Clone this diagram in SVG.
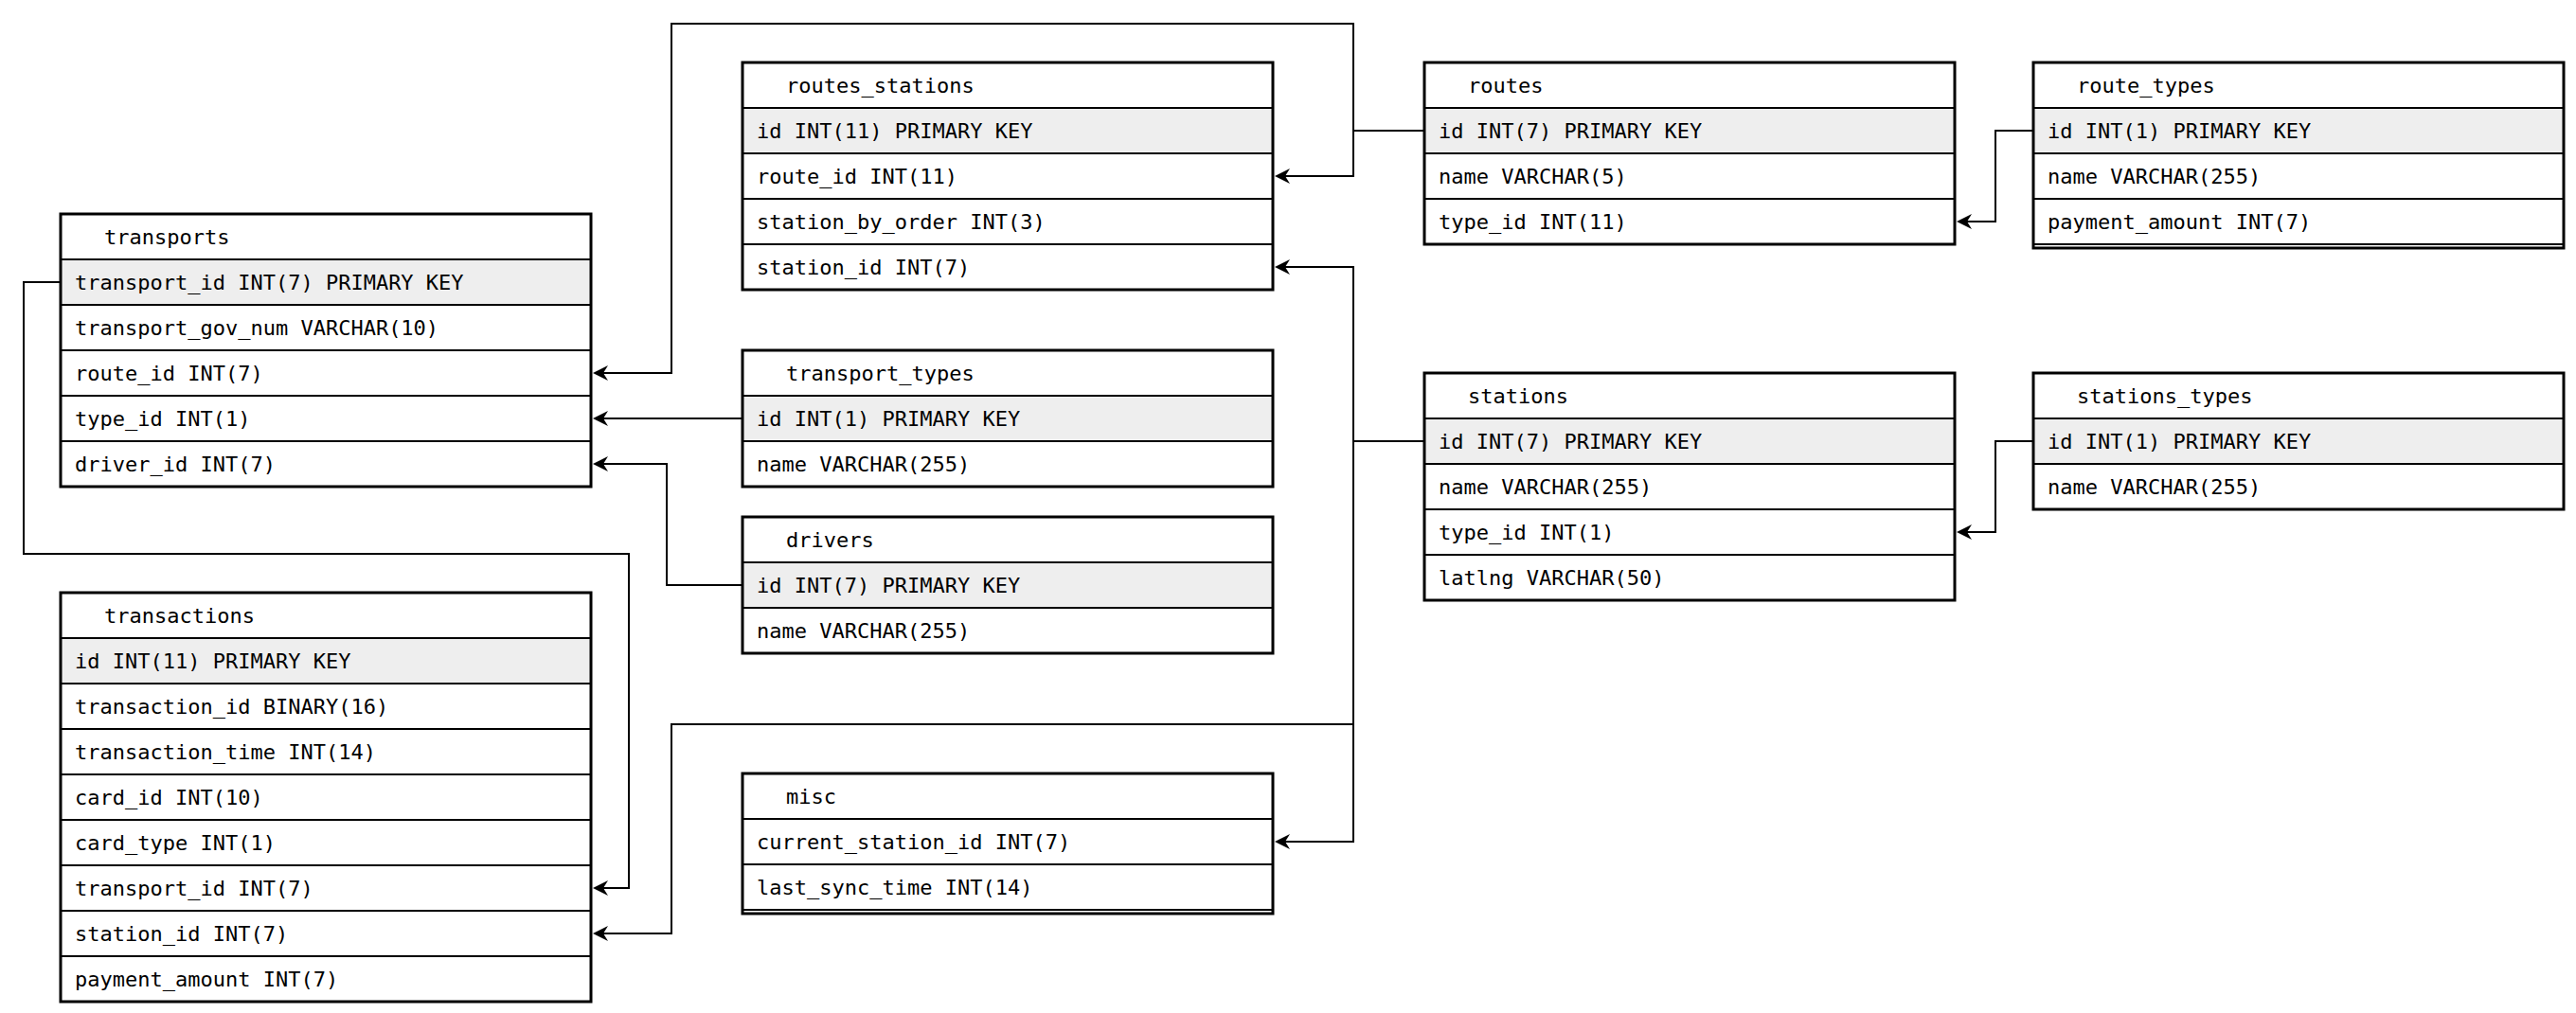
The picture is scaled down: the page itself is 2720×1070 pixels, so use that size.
<svg xmlns="http://www.w3.org/2000/svg" width="2720" height="1070" viewBox="0 0 2720 1070">
<style>
.bg{fill:#fff}
.box{fill:none;stroke:#000;stroke-width:3}
.hd{fill:#fff}
.pk{fill:#eeeeee}
.sep{stroke:#000;stroke-width:2}
.t{font-family:"DejaVu Sans Mono",monospace;font-size:22px;fill:#000}
.c{fill:none;stroke:#000;stroke-width:2}
</style>
<defs>
<marker id="arr" markerUnits="userSpaceOnUse" markerWidth="18" markerHeight="18" refX="12" refY="8" orient="auto">
<path d="M0,0 L16,8 L0,16 L5,8 Z" fill="#000"/>
</marker>
</defs>
<rect class="bg" x="0" y="0" width="2720" height="1070"/>

<g id="connectors">
<path class="c" d="M1504,138 H1429 V186 H1350" marker-end="url(#arr)"/>
<path class="c" d="M1504,138 H1429 V25 H709 V394 H630" marker-end="url(#arr)"/>
<path class="c" d="M784,442 H630" marker-end="url(#arr)"/>
<path class="c" d="M784,618 H704 V490 H630" marker-end="url(#arr)"/>
<path class="c" d="M64,298 H25 V585 H664 V938 H630" marker-end="url(#arr)"/>
<path class="c" d="M1504,466 H1429 V282 H1350" marker-end="url(#arr)"/>
<path class="c" d="M1504,466 H1429 V889 H1350" marker-end="url(#arr)"/>
<path class="c" d="M1504,466 H1429 V765 H709 V986 H630" marker-end="url(#arr)"/>
<path class="c" d="M2147,138 H2107 V234 H2070" marker-end="url(#arr)"/>
<path class="c" d="M2147,466 H2107 V562 H2070" marker-end="url(#arr)"/>
</g>

<g id="transports">
<rect class="hd" x="64" y="226" width="560" height="288"/>
<rect class="pk" x="64" y="274" width="560" height="48"/>
<line class="sep" x1="64" y1="274" x2="624" y2="274"/>
<line class="sep" x1="64" y1="322" x2="624" y2="322"/>
<line class="sep" x1="64" y1="370" x2="624" y2="370"/>
<line class="sep" x1="64" y1="418" x2="624" y2="418"/>
<line class="sep" x1="64" y1="466" x2="624" y2="466"/>
<rect class="box" x="64" y="226" width="560" height="288"/>
<text class="t" x="110" y="258">transports</text>
<text class="t" x="79" y="306">transport_id INT(7) PRIMARY KEY</text>
<text class="t" x="79" y="354">transport_gov_num VARCHAR(10)</text>
<text class="t" x="79" y="402">route_id INT(7)</text>
<text class="t" x="79" y="450">type_id INT(1)</text>
<text class="t" x="79" y="498">driver_id INT(7)</text>
</g>

<g id="routes_stations">
<rect class="hd" x="784" y="66" width="560" height="240"/>
<rect class="pk" x="784" y="114" width="560" height="48"/>
<line class="sep" x1="784" y1="114" x2="1344" y2="114"/>
<line class="sep" x1="784" y1="162" x2="1344" y2="162"/>
<line class="sep" x1="784" y1="210" x2="1344" y2="210"/>
<line class="sep" x1="784" y1="258" x2="1344" y2="258"/>
<rect class="box" x="784" y="66" width="560" height="240"/>
<text class="t" x="830" y="98">routes_stations</text>
<text class="t" x="799" y="146">id INT(11) PRIMARY KEY</text>
<text class="t" x="799" y="194">route_id INT(11)</text>
<text class="t" x="799" y="242">station_by_order INT(3)</text>
<text class="t" x="799" y="290">station_id INT(7)</text>
</g>

<g id="routes">
<rect class="hd" x="1504" y="66" width="560" height="192"/>
<rect class="pk" x="1504" y="114" width="560" height="48"/>
<line class="sep" x1="1504" y1="114" x2="2064" y2="114"/>
<line class="sep" x1="1504" y1="162" x2="2064" y2="162"/>
<line class="sep" x1="1504" y1="210" x2="2064" y2="210"/>
<rect class="box" x="1504" y="66" width="560" height="192"/>
<text class="t" x="1550" y="98">routes</text>
<text class="t" x="1519" y="146">id INT(7) PRIMARY KEY</text>
<text class="t" x="1519" y="194">name VARCHAR(5)</text>
<text class="t" x="1519" y="242">type_id INT(11)</text>
</g>

<g id="route_types">
<rect class="hd" x="2147" y="66" width="560" height="196"/>
<rect class="pk" x="2147" y="114" width="560" height="48"/>
<line class="sep" x1="2147" y1="114" x2="2707" y2="114"/>
<line class="sep" x1="2147" y1="162" x2="2707" y2="162"/>
<line class="sep" x1="2147" y1="210" x2="2707" y2="210"/>
<line class="sep" x1="2147" y1="258" x2="2707" y2="258"/>
<rect class="box" x="2147" y="66" width="560" height="196"/>
<text class="t" x="2193" y="98">route_types</text>
<text class="t" x="2162" y="146">id INT(1) PRIMARY KEY</text>
<text class="t" x="2162" y="194">name VARCHAR(255)</text>
<text class="t" x="2162" y="242">payment_amount INT(7)</text>
</g>

<g id="transport_types">
<rect class="hd" x="784" y="370" width="560" height="144"/>
<rect class="pk" x="784" y="418" width="560" height="48"/>
<line class="sep" x1="784" y1="418" x2="1344" y2="418"/>
<line class="sep" x1="784" y1="466" x2="1344" y2="466"/>
<rect class="box" x="784" y="370" width="560" height="144"/>
<text class="t" x="830" y="402">transport_types</text>
<text class="t" x="799" y="450">id INT(1) PRIMARY KEY</text>
<text class="t" x="799" y="498">name VARCHAR(255)</text>
</g>

<g id="drivers">
<rect class="hd" x="784" y="546" width="560" height="144"/>
<rect class="pk" x="784" y="594" width="560" height="48"/>
<line class="sep" x1="784" y1="594" x2="1344" y2="594"/>
<line class="sep" x1="784" y1="642" x2="1344" y2="642"/>
<rect class="box" x="784" y="546" width="560" height="144"/>
<text class="t" x="830" y="578">drivers</text>
<text class="t" x="799" y="626">id INT(7) PRIMARY KEY</text>
<text class="t" x="799" y="674">name VARCHAR(255)</text>
</g>

<g id="stations">
<rect class="hd" x="1504" y="394" width="560" height="240"/>
<rect class="pk" x="1504" y="442" width="560" height="48"/>
<line class="sep" x1="1504" y1="442" x2="2064" y2="442"/>
<line class="sep" x1="1504" y1="490" x2="2064" y2="490"/>
<line class="sep" x1="1504" y1="538" x2="2064" y2="538"/>
<line class="sep" x1="1504" y1="586" x2="2064" y2="586"/>
<rect class="box" x="1504" y="394" width="560" height="240"/>
<text class="t" x="1550" y="426">stations</text>
<text class="t" x="1519" y="474">id INT(7) PRIMARY KEY</text>
<text class="t" x="1519" y="522">name VARCHAR(255)</text>
<text class="t" x="1519" y="570">type_id INT(1)</text>
<text class="t" x="1519" y="618">latlng VARCHAR(50)</text>
</g>

<g id="stations_types">
<rect class="hd" x="2147" y="394" width="560" height="144"/>
<rect class="pk" x="2147" y="442" width="560" height="48"/>
<line class="sep" x1="2147" y1="442" x2="2707" y2="442"/>
<line class="sep" x1="2147" y1="490" x2="2707" y2="490"/>
<rect class="box" x="2147" y="394" width="560" height="144"/>
<text class="t" x="2193" y="426">stations_types</text>
<text class="t" x="2162" y="474">id INT(1) PRIMARY KEY</text>
<text class="t" x="2162" y="522">name VARCHAR(255)</text>
</g>

<g id="transactions">
<rect class="hd" x="64" y="626" width="560" height="432"/>
<rect class="pk" x="64" y="674" width="560" height="48"/>
<line class="sep" x1="64" y1="674" x2="624" y2="674"/>
<line class="sep" x1="64" y1="722" x2="624" y2="722"/>
<line class="sep" x1="64" y1="770" x2="624" y2="770"/>
<line class="sep" x1="64" y1="818" x2="624" y2="818"/>
<line class="sep" x1="64" y1="866" x2="624" y2="866"/>
<line class="sep" x1="64" y1="914" x2="624" y2="914"/>
<line class="sep" x1="64" y1="962" x2="624" y2="962"/>
<line class="sep" x1="64" y1="1010" x2="624" y2="1010"/>
<rect class="box" x="64" y="626" width="560" height="432"/>
<text class="t" x="110" y="658">transactions</text>
<text class="t" x="79" y="706">id INT(11) PRIMARY KEY</text>
<text class="t" x="79" y="754">transaction_id BINARY(16)</text>
<text class="t" x="79" y="802">transaction_time INT(14)</text>
<text class="t" x="79" y="850">card_id INT(10)</text>
<text class="t" x="79" y="898">card_type INT(1)</text>
<text class="t" x="79" y="946">transport_id INT(7)</text>
<text class="t" x="79" y="994">station_id INT(7)</text>
<text class="t" x="79" y="1042">payment_amount INT(7)</text>
</g>

<g id="misc">
<rect class="hd" x="784" y="817" width="560" height="148"/>
<line class="sep" x1="784" y1="865" x2="1344" y2="865"/>
<line class="sep" x1="784" y1="913" x2="1344" y2="913"/>
<line class="sep" x1="784" y1="961" x2="1344" y2="961"/>
<rect class="box" x="784" y="817" width="560" height="148"/>
<text class="t" x="830" y="849">misc</text>
<text class="t" x="799" y="897">current_station_id INT(7)</text>
<text class="t" x="799" y="945">last_sync_time INT(14)</text>
</g>
</svg>
